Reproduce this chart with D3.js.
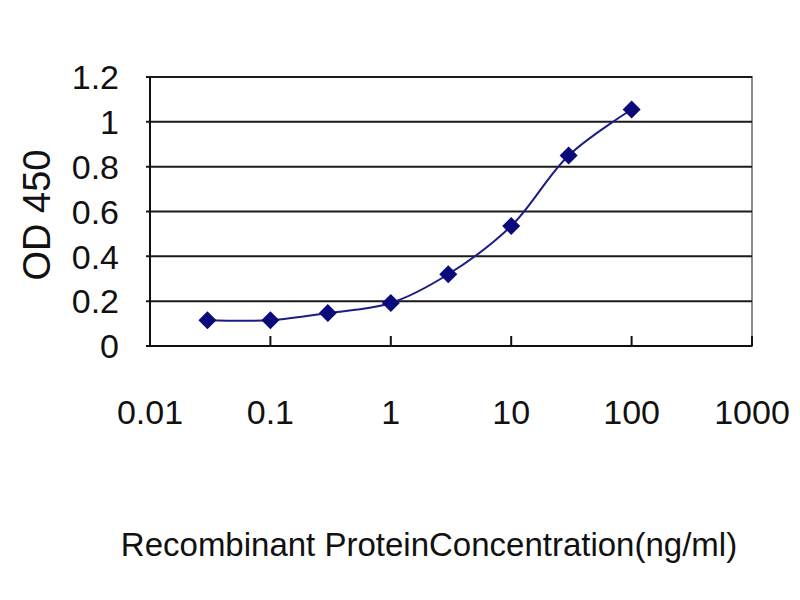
<!DOCTYPE html>
<html>
<head>
<meta charset="utf-8">
<script src="https://cdn.jsdelivr.net/npm/d3@7"></script>
<style>
  body { margin: 0; background: #fff; }
  text { font-family: "Liberation Sans", Arial, sans-serif; fill: #111; }
</style>
</head>
<body>
<div id="chart"></div>
<script>
// concentration (ng/ml) and measured OD
var concentrations = [0.03, 0.1, 0.3, 1, 3, 10, 30, 100];
var odValues = [0.115, 0.115, 0.147, 0.192, 0.32, 0.535, 0.85, 1.055];
var xTicks = [0.01, 0.1, 1, 10, 100, 1000];
var xTickLabels = ["0.01", "0.1", "1", "10", "100", "1000"];
var yTicks = [0, 0.2, 0.4, 0.6, 0.8, 1, 1.2];
var yTickLabels = ["0", "0.2", "0.4", "0.6", "0.8", "1", "1.2"];

var points = concentrations.map(function (c, i) {
  return { conc: c, od: odValues[i] };
});

var svg = d3.select("#chart").append("svg")
  .attr("width", 800)
  .attr("height", 600);

var margin = { top: 77, right: 48, bottom: 254, left: 150 };
var width = 800 - margin.left - margin.right;
var height = 600 - margin.top - margin.bottom;

var x = d3.scaleLog().domain([0.01, 1000]).range([0, width]);
var y = d3.scaleLinear().domain([0, 1.2]).range([height, 0]);

var g = svg.append("g")
  .attr("transform", "translate(" + margin.left + "," + margin.top + ")");

// plot frame (gray top/right)
g.append("rect")
  .attr("x", 0).attr("y", 0)
  .attr("width", width).attr("height", height)
  .style("fill", "#fff")
  .style("stroke", "#8a8a8a")
  .style("stroke-width", 2);

// horizontal gridlines
g.selectAll(".grid")
  .data(yTicks.filter(function (d) { return d > 0; }))
  .enter().append("line")
  .attr("class", "grid")
  .attr("x1", -4).attr("x2", width)
  .attr("y1", function (d) { return y(d); })
  .attr("y2", function (d) { return y(d); })
  .style("stroke", "#1a1a1a")
  .style("stroke-width", 2);

// left axis line
g.append("line")
  .attr("x1", 0).attr("x2", 0)
  .attr("y1", 0).attr("y2", height)
  .style("stroke", "#111").style("stroke-width", 2);

// bottom axis line
g.append("line")
  .attr("x1", -4).attr("x2", width)
  .attr("y1", height).attr("y2", height)
  .style("stroke", "#111").style("stroke-width", 2);

// x ticks point upward into the plot
g.selectAll(".xtick")
  .data(xTicks)
  .enter().append("line")
  .attr("class", "xtick")
  .attr("x1", function (d) { return x(d); })
  .attr("x2", function (d) { return x(d); })
  .attr("y1", height).attr("y2", height - 10)
  .style("stroke", "#111").style("stroke-width", 2);

// y tick labels
g.selectAll(".ylabel")
  .data(yTicks)
  .enter().append("text")
  .attr("class", "ylabel")
  .attr("x", -31)
  .attr("y", function (d) { return y(d); })
  .attr("dy", "0.36em")
  .style("text-anchor", "end")
  .style("font-size", "34px")
  .text(function (d, i) { return yTickLabels[i]; });

// x tick labels
g.selectAll(".xlabel")
  .data(xTicks)
  .enter().append("text")
  .attr("class", "xlabel")
  .attr("x", function (d) { return x(d); })
  .attr("y", height + 66)
  .attr("dy", "0.36em")
  .style("text-anchor", "middle")
  .style("font-size", "34px")
  .text(function (d, i) { return xTickLabels[i]; });

// smoothed line
var line = d3.line()
  .x(function (d) { return x(d.conc); })
  .y(function (d) { return y(d.od); })
  .curve(d3.curveCatmullRom.alpha(0.5));

g.append("path")
  .datum(points)
  .attr("d", line)
  .style("fill", "none")
  .style("stroke", "#1c1c86")
  .style("stroke-width", 2);

// diamond markers
g.selectAll(".pt")
  .data(points)
  .enter().append("path")
  .attr("class", "pt")
  .attr("transform", function (d) {
    return "translate(" + x(d.conc) + "," + y(d.od) + ")";
  })
  .attr("d", "M0,-9L9,0L0,9L-9,0Z")
  .style("fill", "#0a0a7a");

// axis titles
svg.append("text")
  .attr("transform", "translate(50,215) rotate(-90)")
  .style("text-anchor", "middle")
  .style("font-size", "38px")
  .text("OD 450");

svg.append("text")
  .attr("x", 429)
  .attr("y", 556)
  .style("text-anchor", "middle")
  .style("font-size", "33px")
  .text("Recombinant ProteinConcentration(ng/ml)");
</script>
</body>
</html>
